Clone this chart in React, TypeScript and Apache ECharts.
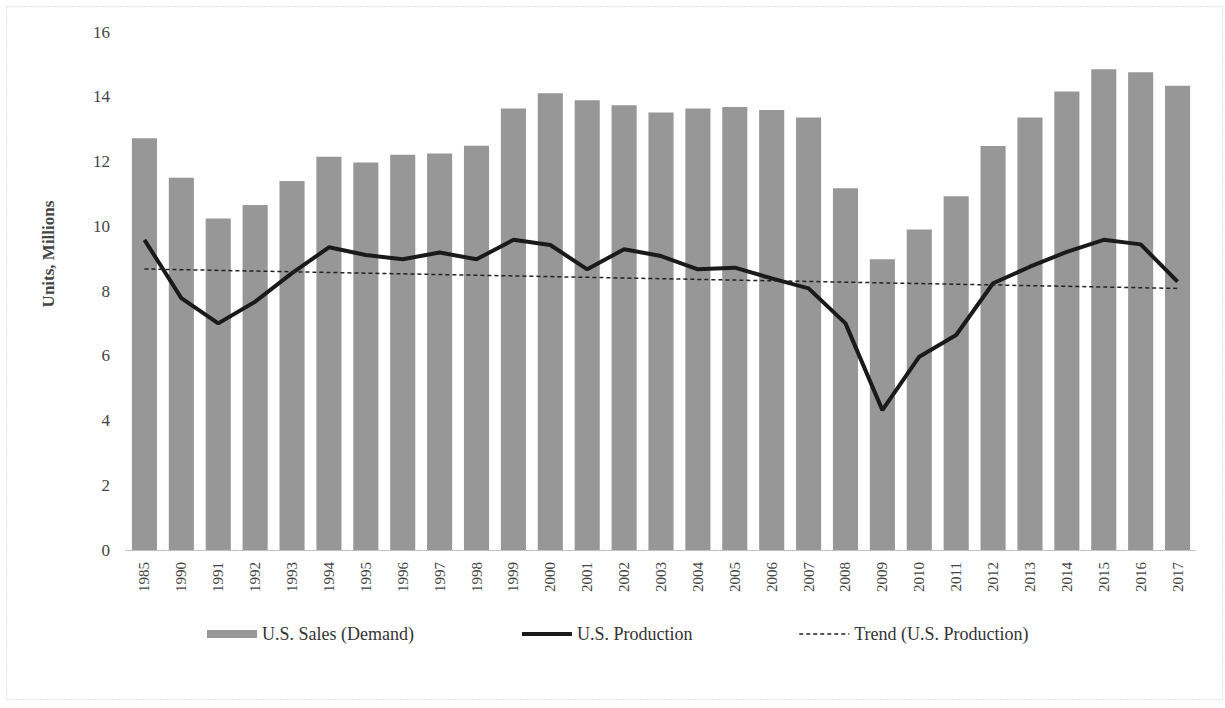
import React, { useEffect, useRef } from "react";
import * as echarts from "echarts";

const years = [
  "1985", "1990", "1991", "1992", "1993", "1994", "1995", "1996", "1997", "1998",
  "1999", "2000", "2001", "2002", "2003", "2004", "2005", "2006", "2007", "2008",
  "2009", "2010", "2011", "2012", "2013", "2014", "2015", "2016", "2017",
];

const salesDemand = [
  12.72, 11.5, 10.24, 10.66, 11.4, 12.15, 11.97, 12.21, 12.25, 12.49,
  13.64, 14.11, 13.89, 13.74, 13.51, 13.64, 13.68, 13.59, 13.36, 11.17,
  8.98, 9.9, 10.93, 12.48, 13.36, 14.16, 14.85, 14.76, 14.34,
];

const usProduction = [
  9.58, 7.78, 7.0, 7.67, 8.55, 9.35, 9.11, 8.98, 9.19, 8.98,
  9.58, 9.42, 8.67, 9.29, 9.08, 8.67, 8.72, 8.39, 8.08, 7.0,
  4.32, 5.97, 6.64, 8.24, 8.75, 9.21, 9.58, 9.44, 8.29,
];

// Trend line endpoints (linear trend of U.S. Production)
const trendFirst = 8.68;
const trendLast = 8.08;

const yTicks = { min: 0, max: 16, interval: 2 };

const seriesNames = ["U.S. Sales (Demand)", "U.S. Production", "Trend (U.S. Production)"];
const yTitle = "Units, Millions";

const FONT = "'Liberation Serif', 'Times New Roman', serif";

export default function App() {
  const ref = useRef<HTMLDivElement>(null);

  useEffect(() => {
    if (!ref.current) return;
    const chart = echarts.init(ref.current, undefined, { renderer: "svg" });

    const trendData = years.map((_, i) =>
      i === 0 ? trendFirst : i === years.length - 1 ? trendLast : null
    );

    chart.setOption({
      animation: false,
      backgroundColor: "#ffffff",
      textStyle: { fontFamily: FONT },
      grid: { left: 126, right: 29, top: 32, bottom: 158, containLabel: false },
      legend: {
        left: 202,
        top: 620,
        itemWidth: 50,
        itemHeight: 8,
        itemGap: 106,
        textStyle: { fontFamily: FONT, fontSize: 18, color: "#333" },
        data: [
          { name: seriesNames[0], icon: "rect" },
          { name: seriesNames[1], itemStyle: { opacity: 0 }, lineStyle: { width: 4 } },
          { name: seriesNames[2], itemStyle: { opacity: 0 }, lineStyle: { width: 1.5 } },
        ],
      },
      xAxis: {
        type: "category",
        data: years,
        axisLine: { show: true, lineStyle: { color: "#b4b4b4", width: 1, type: "dotted" } },
        axisTick: { show: false },
        axisLabel: {
          rotate: 90,
          fontSize: 15,
          fontFamily: FONT,
          color: "#444",
          margin: 12,
          interval: 0,
        },
        splitLine: { show: false },
      },
      yAxis: {
        type: "value",
        min: yTicks.min,
        max: yTicks.max,
        interval: yTicks.interval,
        axisLine: { show: false },
        axisTick: { show: false },
        splitLine: { show: false },
        axisLabel: { fontSize: 17, fontFamily: FONT, color: "#444", margin: 16 },
      },
      series: [
        {
          name: seriesNames[0],
          type: "bar",
          data: salesDemand,
          barCategoryGap: "32%",
          itemStyle: { color: "#979797" },
        },
        {
          name: seriesNames[1],
          type: "line",
          data: usProduction,
          symbol: "none",
          lineStyle: { color: "#1a1a1a", width: 4 },
          itemStyle: { color: "#1a1a1a" },
          z: 3,
        },
        {
          name: seriesNames[2],
          type: "line",
          data: trendData,
          connectNulls: true,
          symbol: "none",
          lineStyle: { color: "#222", width: 1.5, type: [4, 3] },
          itemStyle: { color: "#222" },
          z: 4,
        },
      ],
      graphic: [
        {
          type: "rect",
          shape: { x: 6.5, y: 6.5, width: 1216, height: 693 },
          style: { fill: "none", stroke: "#c4c4c4", lineWidth: 1, lineDash: [1, 2] },
          silent: true,
        },
        {
          type: "text",
          x: 48,
          y: 254,
          rotation: Math.PI / 2,
          style: {
            text: yTitle,
            fontFamily: FONT,
            fontSize: 17,
            fontWeight: "bold",
            fill: "#444",
            align: "center",
            verticalAlign: "middle",
          },
        },
      ],
    });

    return () => chart.dispose();
  }, []);

  return (
    <div
      ref={ref}
      style={{ position: "absolute", left: 0, top: 0, width: 1225, height: 708, background: "#fff" }}
    />
  );
}
